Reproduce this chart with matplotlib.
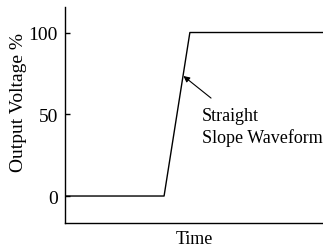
import matplotlib
matplotlib.use("Agg")
import matplotlib.pyplot as plt

time = [0, 38.4, 48.4, 100]
voltage = [0, 0, 100, 100]
yticks = [0, 50, 100]

plt.rcParams['font.family'] = ['Liberation Serif', 'DejaVu Serif']

fig = plt.figure(figsize=(3.23, 2.51), dpi=100)
ax = fig.add_axes([65/323, 1-224/251, 258/323, 216/251])
ax.plot(time, voltage, color='black', lw=1.0)
ax.set_xlim(0, 100)
ax.set_ylim(-16.5, 115.6)
ax.spines['top'].set_visible(False)
ax.spines['right'].set_visible(False)
for s in ('left', 'bottom'):
    ax.spines[s].set_linewidth(1.0)
ax.set_xticks([])
ax.set_yticks(yticks)
ax.set_yticklabels([str(v) for v in yticks])
ax.tick_params(axis='y', direction='in', length=3.6, width=1.0, pad=5.0, labelsize=14)
ax.set_xlabel('Time', fontsize=13, labelpad=5)
ax.set_ylabel('Output Voltage %', fontsize=14)
ax.yaxis.set_label_coords(-0.148, 0.5625)
ax.annotate('', xy=(45.9, 73.4), xytext=(56.6, 59.9),
            arrowprops=dict(arrowstyle='-|>', lw=0.8, color='black', mutation_scale=9, shrinkA=0, shrinkB=0))
ax.text(53.0, 42.8, 'Straight\nSlope Waveform', ha='left', va='center', fontsize=13, linespacing=1.3)
fig.savefig('out.png', dpi=100)
